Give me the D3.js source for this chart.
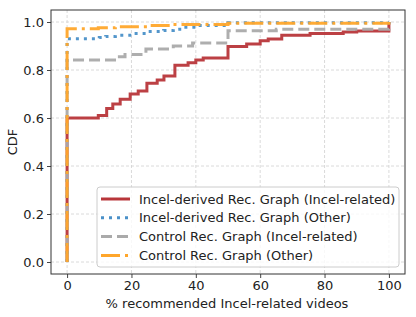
<!DOCTYPE html>
<html><head><meta charset="utf-8">
<script src="https://cdn.jsdelivr.net/npm/d3@7"></script>
<style>body{margin:0;background:#fff}svg{display:block}text{font-family:"DejaVu Sans",sans-serif;fill:#222}</style>
</head><body><svg id="c" width="416" height="317"></svg>
<script>
const seriesNames = ["Incel-derived Rec. Graph (Incel-related)","Incel-derived Rec. Graph (Other)","Control Rec. Graph (Incel-related)","Control Rec. Graph (Other)"];
const incelDerivedIncelX = [0,0,9.7,12.3,14.2,16.5,19.6,22.1,24.8,28,30.1,33.5,37.6,40,42.3,50,55.8,60,62.5,66.7,75.5,85.8,90,100];
const incelDerivedIncelY = [0,0.6,0.61,0.64,0.658,0.678,0.70,0.712,0.745,0.758,0.775,0.82,0.83,0.842,0.85,0.898,0.908,0.922,0.929,0.945,0.952,0.958,0.962,1.0];
const incelDerivedOtherX = [0,0,10,12,15,20,25,30,33,35,40,50,100];
const incelDerivedOtherY = [0,0.93,0.935,0.94,0.945,0.952,0.96,0.965,0.97,0.978,0.985,0.997,1.0];
const controlIncelX = [0,0,15.5,18,24.5,33,39,50,65,100];
const controlIncelY = [0,0.842,0.855,0.865,0.888,0.9,0.912,0.964,0.97,1.0];
const controlOtherX = [0,0,9.7,15,25,33,50,100];
const controlOtherY = [0,0.972,0.976,0.98,0.985,0.99,0.995,1.0];
const xTicks = [0,20,40,60,80,100];
const yTicks = [0.0,0.2,0.4,0.6,0.8,1.0];
const xLabel = "% recommended Incel-related videos";
const yLabel = "CDF";

const colors = ["#b8363a","#4a90c8","#aaaaaa","#ffa62b"];
const dashes = [null,"3,5","11,5","19,5,3,5"];
const FS = 13;

const svg = d3.select("#c");
const L=51,R=405,T=10,B=274;
const x = d3.scaleLinear().domain([-5,105]).range([L,R]);
const y = d3.scaleLinear().domain([-0.05,1.05]).range([B,T]);

// grid
const g = svg.append("g");
xTicks.forEach(t=>g.append("line").attr("x1",x(t)).attr("x2",x(t)).attr("y1",T).attr("y2",B)
  .attr("stroke","#d0d0d0").attr("stroke-width",0.8).attr("stroke-dasharray","3,2"));
yTicks.forEach(t=>g.append("line").attr("x1",L).attr("x2",R).attr("y1",y(t)).attr("y2",y(t))
  .attr("stroke","#d0d0d0").attr("stroke-width",0.8).attr("stroke-dasharray","3,2"));

// series
const data = [
  d3.zip(incelDerivedIncelX,incelDerivedIncelY),
  d3.zip(incelDerivedOtherX,incelDerivedOtherY),
  d3.zip(controlIncelX,controlIncelY),
  d3.zip(controlOtherX,controlOtherY)
];
const line = d3.line().x(d=>x(d[0])).y(d=>y(d[1])).curve(d3.curveStepAfter);
data.forEach((d,i)=>{
  svg.append("path").attr("d",line(d)).attr("fill","none").attr("stroke",colors[i])
    .attr("stroke-width",3).attr("stroke-dasharray",dashes[i]).attr("stroke-linejoin","miter")
    .attr("stroke-opacity",0.95);
});

// axes
const xa = svg.append("g").attr("transform",`translate(0,${B})`)
  .call(d3.axisBottom(x).tickValues(xTicks).tickFormat(d3.format("d")).tickSize(4).tickPadding(3));
const ya = svg.append("g").attr("transform",`translate(${L},0)`)
  .call(d3.axisLeft(y).tickValues(yTicks).tickFormat(d3.format(".1f")).tickSize(4).tickPadding(3));
[xa,ya].forEach(a=>{a.select(".domain").remove();a.selectAll("line").attr("stroke","#444");
  a.selectAll("text").attr("font-size",FS).attr("font-family","DejaVu Sans").attr("fill","#222");});
svg.append("rect").attr("x",L).attr("y",T).attr("width",R-L).attr("height",B-T)
  .attr("fill","none").attr("stroke","#333").attr("stroke-width",1);

svg.append("text").attr("x",(L+R)/2-1).attr("y",308).attr("text-anchor","middle").attr("font-size",FS).text(xLabel);
svg.append("text").attr("transform",`translate(17,${(T+B)/2}) rotate(-90)`).attr("text-anchor","middle").attr("font-size",FS).text(yLabel);

// legend
const lg = svg.append("g");
lg.append("rect").attr("x",97).attr("y",187).attr("width",302).attr("height",80).attr("rx",3)
  .attr("fill","rgba(255,255,255,0.8)").attr("stroke","#cccccc").attr("stroke-width",1);
seriesNames.forEach((n,i)=>{
  const yy = 199 + i*18.8;
  lg.append("line").attr("x1",101).attr("x2",130).attr("y1",yy).attr("y2",yy)
    .attr("stroke",colors[i]).attr("stroke-width",3).attr("stroke-dasharray",dashes[i]);
  lg.append("text").attr("x",139).attr("y",yy+4.5).attr("font-size",FS).text(n);
});
</script></body></html>
